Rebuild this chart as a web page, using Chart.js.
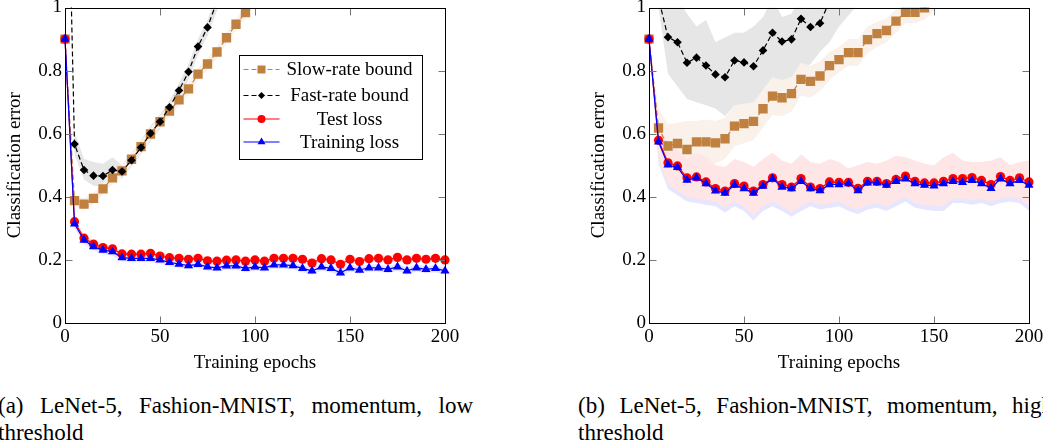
<!DOCTYPE html>
<html>
<head>
<meta charset="utf-8">
<script src="https://cdn.jsdelivr.net/npm/chart.js@4.4.1/dist/chart.umd.min.js"></script>
<style>
  html, body { margin: 0; padding: 0; background: #fff; }
  body { width: 1043px; height: 444px; overflow: hidden; position: relative; font-family: "Liberation Serif", serif; }
  canvas { position: absolute; top: -10px; }
  #chartA { left: 0; }
  #chartB { left: 584px; }
  .caption { position: absolute; top: 392px; width: 475px; font-size: 23px; line-height: 27px; text-align: justify; color: #000; }
</style>
</head>
<body>
<canvas id="chartA" width="560" height="390"></canvas>
<canvas id="chartB" width="560" height="390"></canvas>
<div class="caption" style="left:-2px">(a) LeNet-5, Fashion-MNIST, momentum, low threshold</div>
<div class="caption" style="left:578px">(b) LeNet-5, Fashion-MNIST, momentum, high threshold</div>
<script>
// epochs (x) and ticks
const epochs = [0,5,10,15,20,25,30,35,40,45,50,55,60,65,70,75,80,85,90,95,100,105,110,115,120,125,130,135,140,145,150,155,160,165,170,175,180,185,190,195,200];
const xTicks = [0, 50, 100, 150, 200];
const yTicks = [0, 0.2, 0.4, 0.6, 0.8, 1];
const seriesNames = ['Slow-rate bound', 'Fast-rate bound', 'Test loss', 'Training loss'];

// (a) low threshold
const aSlow   = [0.9,0.388,0.377,0.395,0.425,0.46,0.482,0.519,0.559,0.599,0.638,0.672,0.707,0.742,0.789,0.821,0.859,0.904,0.947,0.984,1.03];
const aSlowHi = [0.9,0.405,0.395,0.413,0.443,0.478,0.5,0.537,0.577,0.617,0.656,0.69,0.725,0.76,0.807,0.839,0.877,0.922,0.965,1.002,1.05];
const aSlowLo = [0.9,0.37,0.359,0.377,0.407,0.442,0.464,0.501,0.541,0.581,0.62,0.654,0.689,0.724,0.771,0.803,0.841,0.886,0.929,0.966,1.01];
const aFast   = [1.9,0.567,0.485,0.467,0.466,0.485,0.48,0.516,0.556,0.601,0.638,0.684,0.737,0.796,0.876,0.937,1.02,1.1];
const aFastHi = [1.9,0.605,0.52,0.51,0.505,0.525,0.5,0.54,0.58,0.625,0.66,0.705,0.76,0.82,0.9,0.96,1.05,1.13];
const aFastLo = [1.9,0.535,0.455,0.435,0.432,0.465,0.458,0.495,0.535,0.575,0.615,0.66,0.712,0.77,0.85,0.91,0.99,1.07];
const aTest   = [0.9,0.321,0.269,0.25,0.239,0.235,0.219,0.218,0.218,0.221,0.212,0.207,0.205,0.202,0.205,0.197,0.196,0.199,0.2,0.196,0.2,0.196,0.205,0.205,0.205,0.202,0.19,0.204,0.2,0.186,0.202,0.195,0.204,0.205,0.2,0.208,0.2,0.205,0.202,0.205,0.2];
const aTestHi = [0.9,0.335,0.28,0.262,0.25,0.246,0.23,0.229,0.23,0.232,0.223,0.218,0.216,0.214,0.216,0.209,0.208,0.21,0.212,0.208,0.211,0.208,0.216,0.217,0.216,0.214,0.202,0.215,0.212,0.198,0.213,0.207,0.215,0.216,0.212,0.219,0.212,0.216,0.214,0.216,0.212];
const aTestLo = [0.9,0.308,0.258,0.239,0.228,0.224,0.208,0.207,0.207,0.21,0.201,0.196,0.194,0.191,0.194,0.186,0.185,0.188,0.189,0.185,0.189,0.185,0.194,0.194,0.194,0.191,0.179,0.193,0.189,0.175,0.191,0.184,0.193,0.194,0.189,0.197,0.189,0.194,0.191,0.194,0.189];
const aTrain   = [0.9,0.314,0.263,0.242,0.231,0.226,0.207,0.205,0.205,0.205,0.2,0.192,0.187,0.182,0.186,0.178,0.175,0.181,0.181,0.173,0.178,0.175,0.184,0.184,0.182,0.173,0.165,0.178,0.173,0.159,0.175,0.168,0.175,0.175,0.17,0.178,0.165,0.175,0.17,0.173,0.165];
const aTrainHi = [0.9,0.326,0.274,0.253,0.242,0.237,0.218,0.216,0.216,0.216,0.211,0.203,0.198,0.193,0.197,0.189,0.186,0.192,0.192,0.184,0.189,0.186,0.195,0.195,0.193,0.184,0.176,0.189,0.184,0.17,0.186,0.179,0.186,0.186,0.181,0.189,0.176,0.186,0.181,0.184,0.176];
const aTrainLo = [0.9,0.3,0.25,0.23,0.219,0.214,0.195,0.193,0.193,0.193,0.188,0.18,0.175,0.17,0.174,0.166,0.163,0.169,0.169,0.161,0.166,0.163,0.172,0.172,0.17,0.161,0.153,0.166,0.161,0.147,0.163,0.156,0.163,0.163,0.158,0.166,0.153,0.163,0.158,0.161,0.153];

// (b) high threshold
const bSlow   = [0.9,0.618,0.561,0.569,0.55,0.574,0.574,0.571,0.584,0.624,0.632,0.639,0.679,0.719,0.714,0.727,0.772,0.766,0.783,0.816,0.835,0.857,0.857,0.898,0.917,0.927,0.957,0.985,0.985,0.999,1.03,1.06];
const bSlowHi = [0.9,0.68,0.63,0.635,0.64,0.64,0.645,0.64,0.65,0.69,0.695,0.7,0.74,0.78,0.77,0.78,0.825,0.815,0.83,0.86,0.875,0.9,0.9,0.94,0.955,0.965,0.995,1.02,1.02,1.04,1.07,1.1];
const bSlowLo = [0.9,0.56,0.5,0.505,0.5,0.51,0.51,0.505,0.52,0.56,0.57,0.58,0.62,0.66,0.655,0.67,0.72,0.715,0.735,0.77,0.795,0.815,0.815,0.855,0.875,0.89,0.92,0.95,0.95,0.96,0.99,1.02];
const bFast   = [1.6,1.03,0.906,0.89,0.825,0.841,0.816,0.788,0.779,0.832,0.826,0.814,0.864,0.92,0.892,0.899,0.964,0.938,0.95,1.02,1.06,1.1,1.14];
const bFastHi = [1.6,1.2,1.1,1.03,0.98,0.94,0.96,0.89,0.905,0.92,0.92,0.94,0.97,1.03,0.97,0.98,1.04,1.02,1.04,1.1,1.15,1.2,1.25];
const bFastLo = [1.6,1.0,0.79,0.75,0.71,0.7,0.69,0.68,0.655,0.69,0.68,0.675,0.7,0.78,0.74,0.75,0.81,0.82,0.86,0.89,0.94,0.975,1.01];
const bTest   = [0.9,0.579,0.508,0.498,0.46,0.463,0.447,0.426,0.418,0.442,0.434,0.418,0.439,0.46,0.439,0.431,0.458,0.431,0.426,0.447,0.446,0.446,0.427,0.449,0.449,0.442,0.455,0.466,0.449,0.444,0.444,0.449,0.458,0.458,0.461,0.452,0.439,0.464,0.452,0.46,0.447];
const bTestHi = [0.9,0.62,0.555,0.55,0.52,0.54,0.525,0.5,0.495,0.52,0.51,0.495,0.52,0.54,0.515,0.505,0.535,0.51,0.505,0.52,0.51,0.49,0.5,0.51,0.505,0.515,0.53,0.525,0.515,0.505,0.5,0.525,0.54,0.515,0.51,0.51,0.515,0.525,0.5,0.51,0.515];
const bTestLo = [0.9,0.52,0.44,0.42,0.4,0.395,0.39,0.385,0.365,0.385,0.37,0.34,0.37,0.385,0.37,0.352,0.37,0.385,0.375,0.38,0.385,0.37,0.36,0.375,0.38,0.37,0.385,0.4,0.38,0.375,0.37,0.37,0.395,0.395,0.39,0.395,0.385,0.395,0.4,0.395,0.37];
const bTrain   = [0.9,0.574,0.501,0.493,0.453,0.46,0.442,0.419,0.412,0.437,0.426,0.412,0.434,0.457,0.431,0.426,0.449,0.426,0.42,0.439,0.439,0.442,0.42,0.444,0.444,0.437,0.449,0.457,0.442,0.437,0.435,0.442,0.449,0.446,0.452,0.442,0.427,0.457,0.442,0.452,0.437];
const bTrainHi = [0.9,0.61,0.545,0.54,0.51,0.53,0.515,0.49,0.485,0.51,0.5,0.485,0.51,0.53,0.505,0.495,0.525,0.5,0.495,0.51,0.5,0.48,0.49,0.5,0.495,0.505,0.52,0.515,0.505,0.495,0.49,0.515,0.53,0.505,0.5,0.5,0.505,0.515,0.49,0.5,0.505];
const bTrainLo = [0.9,0.505,0.425,0.405,0.385,0.38,0.375,0.37,0.35,0.37,0.355,0.325,0.355,0.37,0.355,0.337,0.355,0.37,0.36,0.365,0.37,0.355,0.345,0.36,0.365,0.355,0.37,0.385,0.365,0.36,0.355,0.355,0.38,0.38,0.375,0.38,0.37,0.38,0.385,0.38,0.355];

const BROWN = '#bf8040';
const FONT = { family: 'Liberation Serif', size: 19 };
const clipBox = { left: 10, top: 0, right: 10, bottom: 10 };

// style of each series, same order as seriesNames
const styles = [
  { color: BROWN,  dash: [5, 3], point: 'rect',     r: 6.6, lr: 4 },
  { color: '#000', dash: [5, 3], point: 'rectRot',  r: 4.3, lr: 3.5 },
  { color: '#f00', dash: [],     point: 'circle',   r: 4.6, lr: 4 },
  { color: '#00f', dash: [],     point: 'triangle', r: 5.3, lr: 4.6 }
];

function pts(arr) {
  return epochs.map((e, i) => ({ x: e, y: arr[i] === undefined ? null : arr[i] }));
}

function band(hi, lo, color, order) {
  return [
    { data: pts(hi), fill: '+1', backgroundColor: color, borderWidth: 0, pointRadius: 0, order: order, clip: clipBox },
    { data: pts(lo), fill: false, borderWidth: 0, pointRadius: 0, order: order, clip: clipBox }
  ];
}

function line(arr, s, order) {
  return {
    data: pts(arr), borderColor: s.color, backgroundColor: s.color, borderWidth: 1.2, borderDash: s.dash,
    pointStyle: s.point, pointRadius: s.r, pointBorderWidth: 0, pointBackgroundColor: s.color,
    fill: false, order: order, clip: clipBox, spanGaps: false
  };
}

function mark(ctx, style, x, y, r) {
  ctx.beginPath();
  if (style === 'rect') ctx.rect(x - r, y - r, 2 * r, 2 * r);
  else if (style === 'rectRot') { ctx.moveTo(x, y - r); ctx.lineTo(x + r, y); ctx.lineTo(x, y + r); ctx.lineTo(x - r, y); ctx.closePath(); }
  else if (style === 'circle') ctx.arc(x, y, r, 0, Math.PI * 2);
  else { ctx.moveTo(x, y - r); ctx.lineTo(x + r * 0.866, y + r * 0.5); ctx.lineTo(x - r * 0.866, y + r * 0.5); ctx.closePath(); }
  ctx.fill();
}

// box with inward ticks on all four sides
const framePlugin = {
  id: 'frame',
  afterDraw(chart) {
    const { ctx, chartArea: a } = chart;
    const sx = chart.scales.x, sy = chart.scales.y;
    const L = Math.round(a.left) + 0.5, R = Math.round(a.right) + 0.5;
    const T = Math.round(a.top) + 0.5, B = Math.round(a.bottom) + 0.5;
    ctx.save();
    ctx.strokeStyle = '#777';
    ctx.lineWidth = 1;
    ctx.beginPath();
    xTicks.forEach(v => {
      const px = Math.round(sx.getPixelForValue(v)) + 0.5;
      ctx.moveTo(px, B); ctx.lineTo(px, B - 7);
      ctx.moveTo(px, T); ctx.lineTo(px, T + 7);
    });
    yTicks.forEach(v => {
      const py = Math.round(sy.getPixelForValue(v)) + 0.5;
      ctx.moveTo(L, py); ctx.lineTo(L + 7, py);
      ctx.moveTo(R, py); ctx.lineTo(R - 7, py);
    });
    ctx.stroke();
    ctx.strokeStyle = '#000';
    ctx.strokeRect(L, T, R - L, B - T);
    ctx.restore();
  }
};

// legend box inside the plot (chart a only)
const legendPlugin = {
  id: 'boxLegend',
  afterDraw(chart) {
    const { ctx, chartArea: a } = chart;
    const bx = Math.round(a.left + 174) + 0.5, by = Math.round(a.top + 47) + 0.5;
    const bw = 183, bh = 104;
    const rows = [14, 40, 63.5, 86.5];
    ctx.save();
    ctx.fillStyle = '#fff';
    ctx.fillRect(bx, by, bw, bh);
    ctx.strokeStyle = '#000';
    ctx.lineWidth = 1;
    ctx.strokeRect(bx, by, bw, bh);
    ctx.font = '19px "Liberation Serif"';
    ctx.textAlign = 'center';
    ctx.textBaseline = 'middle';
    seriesNames.forEach((name, i) => {
      const s = styles[i];
      const y = by + rows[i];
      ctx.strokeStyle = s.color;
      ctx.fillStyle = s.color;
      ctx.lineWidth = 1.2;
      ctx.setLineDash(s.dash);
      ctx.beginPath();
      ctx.moveTo(bx + 4, y); ctx.lineTo(bx + 40, y);
      ctx.stroke();
      ctx.setLineDash([]);
      mark(ctx, s.point, bx + 22, y, s.lr);
      ctx.fillStyle = '#000';
      ctx.fillText(name, bx + 110, y + 1);
    });
    ctx.restore();
  }
};

function makeChart(id, d, withLegend) {
  const datasets = [
    line(d.train, styles[3], 1),
    line(d.test, styles[2], 2),
    line(d.fast, styles[1], 3),
    line(d.slow, styles[0], 4),
    ...band(d.testHi, d.testLo, '#ffe6e6', 17),
    ...band(d.trainHi, d.trainLo, '#e6e6ff', 18),
    ...band(d.slowHi, d.slowLo, '#f9f1ea', 19),
    ...band(d.fastHi, d.fastLo, '#e6e6e6', 20)
  ];
  return new Chart(document.getElementById(id), {
    type: 'line',
    data: { datasets: datasets },
    options: {
      responsive: false,
      animation: false,
      devicePixelRatio: 1,
      layout: { padding: { left: 3.6, right: 115, top: 17.5, bottom: 5.6 } },
      plugins: { legend: { display: false }, tooltip: { enabled: false } },
      scales: {
        x: {
          type: 'linear', min: 0, max: 200,
          afterBuildTicks: s => { s.ticks = xTicks.map(v => ({ value: v })); },
          afterFit: s => { s.height = 51.4; },
          grid: { display: false, drawTicks: false },
          border: { display: false },
          ticks: { font: FONT, color: '#000', padding: 3, maxRotation: 0, autoSkip: false },
          title: { display: true, text: 'Training epochs', font: FONT, color: '#000', padding: { top: 0, bottom: 0 } }
        },
        y: {
          type: 'linear', min: 0, max: 1,
          afterBuildTicks: s => { s.ticks = yTicks.map(v => ({ value: v })); },
          afterFit: s => { s.width = 61.4; },
          grid: { display: false, drawTicks: false },
          border: { display: false },
          ticks: { font: FONT, color: '#000', padding: 3, callback: v => String(v) },
          title: { display: true, text: 'Classification error', font: FONT, color: '#000', padding: { top: 0, bottom: 0 } }
        }
      }
    },
    plugins: withLegend ? [framePlugin, legendPlugin] : [framePlugin]
  });
}

makeChart('chartA', {
  slow: aSlow, slowHi: aSlowHi, slowLo: aSlowLo, fast: aFast, fastHi: aFastHi, fastLo: aFastLo,
  test: aTest, testHi: aTestHi, testLo: aTestLo, train: aTrain, trainHi: aTrainHi, trainLo: aTrainLo
}, true);

makeChart('chartB', {
  slow: bSlow, slowHi: bSlowHi, slowLo: bSlowLo, fast: bFast, fastHi: bFastHi, fastLo: bFastLo,
  test: bTest, testHi: bTestHi, testLo: bTestLo, train: bTrain, trainHi: bTrainHi, trainLo: bTrainLo
}, false);
</script>
</body>
</html>
